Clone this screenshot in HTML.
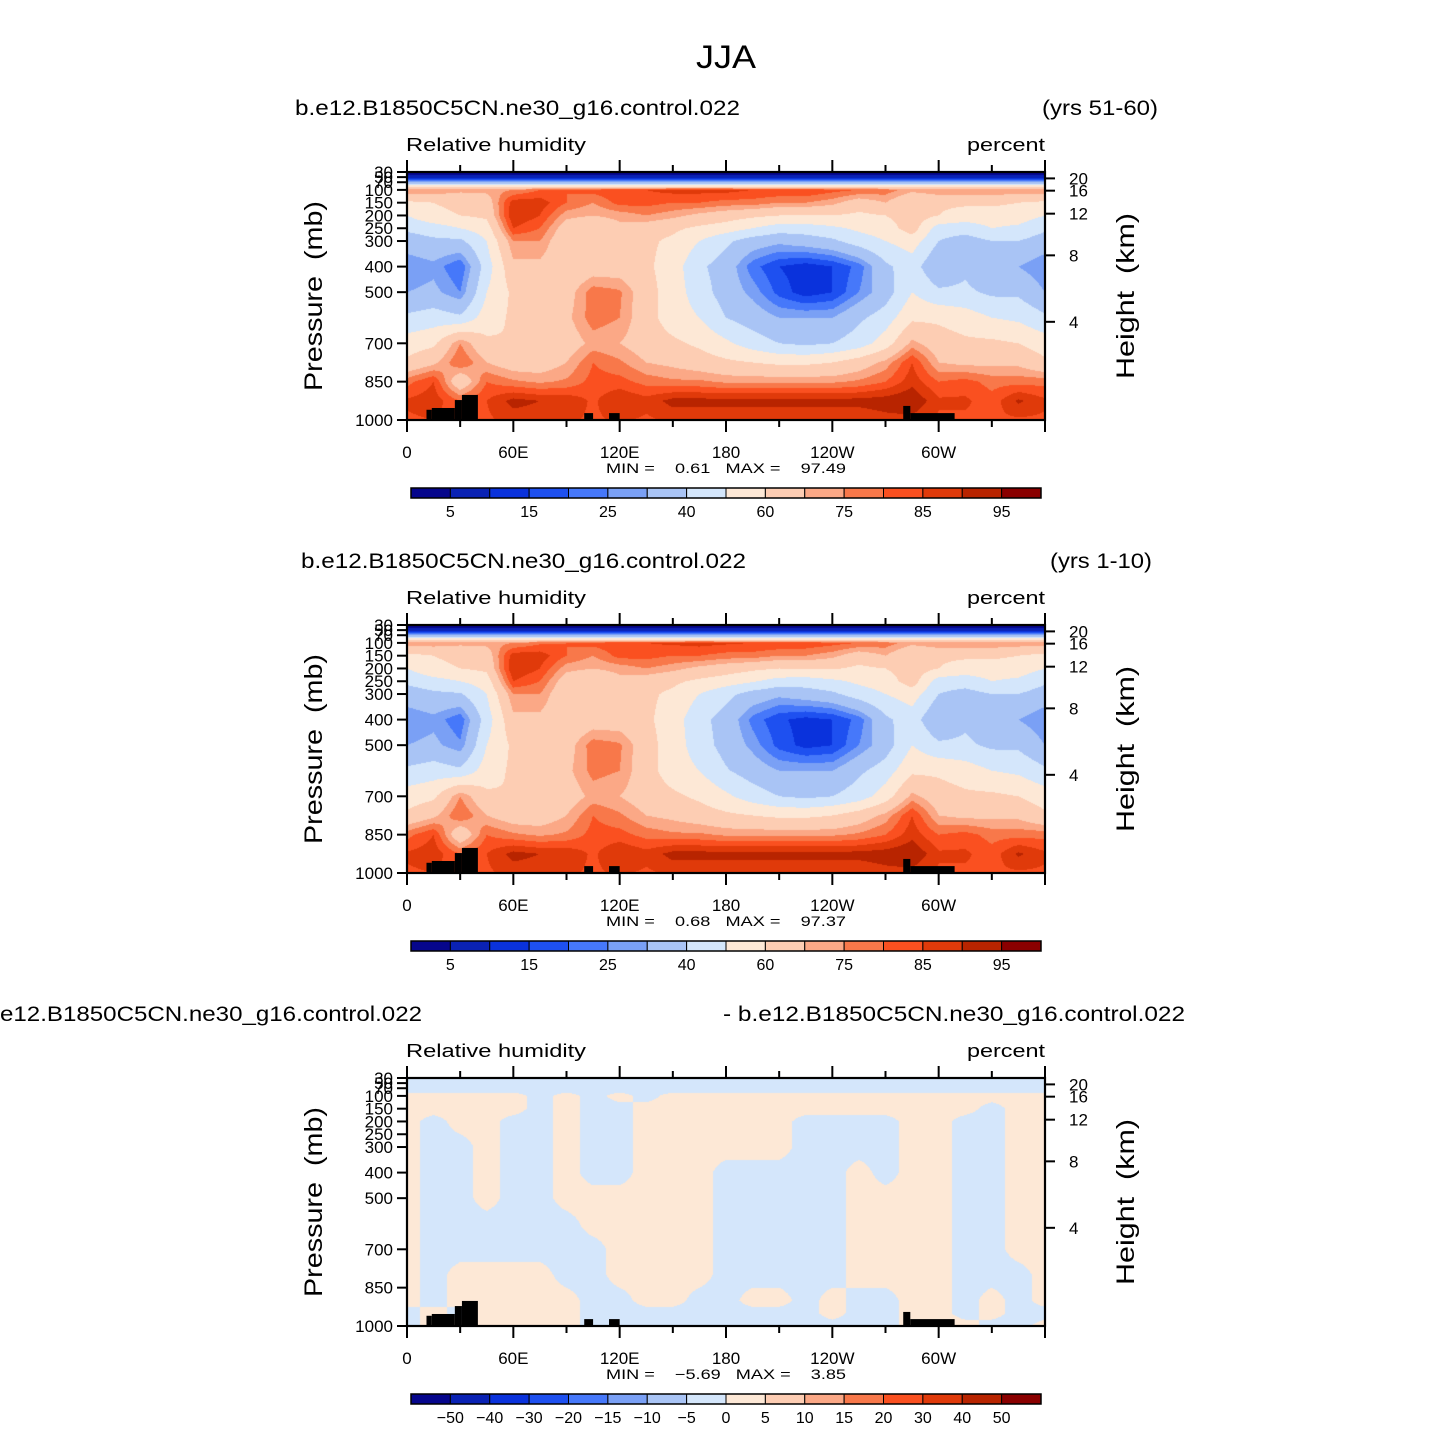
<!DOCTYPE html>
<html><head><meta charset="utf-8">
<style>
html,body{margin:0;padding:0;background:#fff;}
#wrap{position:relative;width:1453px;height:1453px;overflow:hidden;background:#fff;}
canvas{position:absolute;}
svg{position:absolute;left:0;top:0;}
text{font-family:"Liberation Sans",sans-serif;fill:#000;white-space:pre;}
</style></head>
<body>
<div id="wrap">
<canvas id="c0" width="638" height="248" style="left:407px;top:172px"></canvas>
<canvas id="c1" width="638" height="248" style="left:407px;top:625px"></canvas>
<canvas id="c2" width="638" height="248" style="left:407px;top:1078px"></canvas>
<svg id="svg" width="1453" height="1453"></svg>
</div>
<script>
// ---- data ----
const lons = [0,15,30,45,60,75,90,105,120,135,150,165,180,195,210,225,240,255,270,285,300,315,330,345,360];
const presRows = [30,50,70,85,100,150,200,250,300,400,500,600,700,775,850,925,1000];
const rhTest = [
[1,1,1,1,1,1,1,1,1,1,1,1,1,1,1,1,1,1,1,1,1,1,1,1,1],
[8,8,8,8,8,8,8,8,8,8,8,8,8,8,8,8,8,8,8,8,8,8,8,8,8],
[30,30,30,30,30,30,30,30,30,30,30,30,30,30,30,30,30,30,30,30,30,30,30,30,30],
[55,55,55,55,55,55,55,55,55,55,55,55,55,55,55,55,55,55,55,55,55,55,55,55,55],
[75,75,72,72,75,80,80,82,85,85,87,87,87,85,85,85,82,80,78,72,75,75,75,75,75],
[58,60,62,65,88,88,80,75,82,82,80,80,78,78,75,75,72,65,70,60,62,62,62,60,58],
[50,58,60,62,90,85,72,70,72,75,72,68,65,62,60,60,60,58,60,65,60,55,55,55,50],
[42,45,50,55,85,80,65,62,68,65,62,58,55,50,45,45,48,52,55,65,45,45,50,48,42],
[35,38,38,50,75,75,62,60,65,62,58,50,42,35,32,35,38,45,50,55,40,35,40,40,35],
[25,28,20,45,68,68,62,65,65,62,55,42,35,22,15,12,15,22,38,45,30,38,30,30,25],
[30,32,25,50,62,65,66,78,76,64,55,45,35,28,18,12,15,25,35,50,42,42,38,38,30],
[42,45,42,55,62,62,68,78,75,64,55,50,40,35,30,30,30,38,45,58,58,55,50,48,42],
[55,58,75,62,60,60,65,72,70,65,62,58,52,45,40,38,40,45,55,72,65,62,62,60,55],
[62,68,80,70,65,65,70,80,76,70,68,65,62,60,58,58,60,65,72,85,70,68,68,68,62],
[78,85,62,80,76,74,76,82,82,78,76,76,74,74,74,74,74,76,80,88,80,82,78,78,78],
[86,88,80,85,92,90,89,84,90,87,92,92,92,92,92,92,92,92,93,95,86,86,82,91,86],
[84,85,82,84,87,87,86,84,86,84,86,86,86,86,86,86,86,86,88,88,84,84,84,84,84]];
const rhCtrl = [
[1,1,1,1,1,1,1,1,1,1,1,1,1,1,1,1,1,1,1,1,1,1,1,1,1],
[8,8,8,8,8,8,8,8,8,8,8,8,8,8,8,8,8,8,8,8,8,8,8,8,8],
[30,30,30,30,30,30,30,30,30,30,30,30,30,30,30,30,30,30,30,30,30,30,30,30,30],
[55,55,55,55,55,55,55,55,55,55,55,55,55,55,55,55,55,55,55,55,55,55,55,55,55],
[74,74,72,72,75,79,80,82,84,85,86,87,86,85,85,84,82,80,78,72,75,75,75,74,74],
[57,60,62,65,88,88,80,75,82,82,80,80,78,78,75,75,72,65,70,60,62,62,62,60,57],
[50,58,60,62,90,85,72,70,72,75,72,68,65,62,60,61,61,58,60,65,60,55,55,55,50],
[42,46,50,55,85,80,65,62,68,65,62,58,55,51,46,45,48,52,55,65,45,45,50,48,42],
[35,38,39,50,75,75,62,60,65,62,58,50,43,36,32,35,38,45,50,55,40,36,40,40,35],
[25,28,21,45,68,68,62,65,65,62,55,43,36,23,16,13,15,22,38,45,30,38,31,30,25],
[30,32,26,50,62,65,66,78,76,64,55,45,36,28,18,13,15,25,35,50,42,42,38,38,30],
[42,45,42,55,62,62,68,77,75,64,55,50,41,35,30,30,30,38,45,58,58,55,50,48,42],
[55,58,75,62,60,60,65,72,70,65,62,58,52,45,40,38,40,45,55,72,65,62,62,60,55],
[62,68,80,70,65,65,70,80,76,70,68,65,62,60,58,58,60,65,72,85,70,68,68,68,62],
[78,85,62,80,76,74,76,82,82,78,76,76,74,74,74,74,74,76,80,88,80,82,78,78,78],
[86,88,80,85,92,90,89,84,90,87,92,92,92,92,92,92,92,92,93,95,86,86,82,91,86],
[84,85,82,84,87,87,86,84,86,84,86,86,86,86,86,86,86,86,88,88,84,84,84,84,84]];
const diffRows = [30,75,100,150,200,300,400,500,600,700,800,900,950,1000];
const rhDiff = [
[-2,-2,-2,-2,-2,-2,-2,-2,-2,-2,-2,-2,-2,-2,-2,-2,-2,-2,-2,-2,-2,-2,-2,-2,-2],
[-2,-2,-2,-2,-2,-2,-2,-2,-2,-2,-2,-2,-2,-2,-2,-2,-2,-2,-2,-2,-2,-2,-2,-2,-2],
[2,2,2,2,2,-2,2,-2,2,-2,2,2,2,2,2,2,2,2,2,2,2,2,2,2,2],
[2,2,2,2,2,-2,2,-2,-2,2,2,2,2,2,2,2,2,2,2,2,2,2,-2,2,2],
[2,-2,2,2,-2,-2,2,-2,-2,2,2,2,2,2,2,-2,-2,-2,-2,2,2,-2,-2,2,2],
[2,-2,-2,2,-2,-2,2,-2,-2,2,2,2,2,2,2,-2,-2,-2,-2,2,2,-2,-2,2,2],
[2,-2,-2,2,-2,-2,2,-2,-2,2,2,2,-2,-2,-2,-2,-2,2,-2,2,2,-2,-2,2,2],
[2,-2,-2,2,-2,-2,2,2,2,2,2,2,-2,-2,-2,-2,-2,2,2,2,2,-2,-2,2,2],
[2,-2,-2,-2,-2,-2,-2,2,2,2,2,2,-2,-2,-2,-2,-2,2,2,2,2,-2,-2,2,2],
[2,-2,-2,-2,-2,-2,-2,-2,2,2,2,2,-2,-2,-2,-2,-2,2,2,2,2,-2,-2,2,2],
[2,-2,2,2,2,2,-2,-2,2,2,2,2,-2,-2,-2,-2,-2,2,2,2,2,-2,-2,-2,2],
[2,-2,2,2,2,2,2,-2,-2,2,2,-2,-2,2,2,-2,2,-2,-2,2,2,-2,2,-2,2],
[-2,2,-2,2,2,2,2,-2,-2,-2,-2,-2,-2,-2,-2,-2,2,-2,-2,2,2,-2,2,-2,-2],
[-2,2,2,2,2,2,2,-2,-2,-2,-2,-2,-2,-2,-2,-2,-2,-2,-2,2,2,2,-2,-2,2]];
const rhLevels = [5,10,15,20,25,30,40,50,60,70,75,80,85,90,95];
const rhLabels = ["5","15","25","40","60","75","85","95"];
const diffLevels = [-50,-40,-30,-20,-15,-10,-5,0,5,10,15,20,30,40,50];
const diffLabels = ["−50","−40","−30","−20","−15","−10","−5","0","5","10","15","20","30","40","50"];
const palette = ["#06068c","#0a22b4","#0a32dc","#1e50f0","#4678fa","#7aa0f5","#a9c4f5","#d4e6fb","#fde8d6","#fdcdb3","#fba886","#f8784a","#fa5020","#e03a0a","#b82400","#8a0000"];
// topography blocks: lonStart, lonEnd, top pressure
const topoLon0 = [11,14,27,31,100,114,280,284];
const topoLon1 = [14,27,31,40,105,120,284,309];
const topoP = [960,953,922,902,973,973,945,973];
const presTicks = [1000,850,700,500,400,300,250,200,150,100,70,50,30];
const heightKm = [4,8,12,16,20];
const heightP = [616,356,193,103,55];
const lonTicks = [0,60,120,180,240,300,360];
const lonLabels = ["0","60E","120E","180","120W","60W",""];
const panelTitles = [["b.e12.B1850C5CN.ne30_g16.control.022","(yrs 51-60)"],["b.e12.B1850C5CN.ne30_g16.control.022","(yrs 1-10)"],["e12.B1850C5CN.ne30_g16.control.022","- b.e12.B1850C5CN.ne30_g16.control.022"]];
const minmax = [["0.61","97.49"],["0.68","97.37"],["−5.69","3.85"]];

// ---- geometry ----
const PX=407, PW=638, PH=248, TOPS=[172,625,1078];
const PTOP=30, PBOT=1000;
function xOf(lon){return PX + lon/360*PW;}
function yOf(p,top){return top + (p-PTOP)/(PBOT-PTOP)*PH;}

function interp(grid, rows, lon, p){
  let i=Math.min(Math.floor(lon/15),23); let fx=(lon-lons[i])/15;
  let j=0; while(j<rows.length-2 && p>rows[j+1]) j++;
  let fy=(p-rows[j])/(rows[j+1]-rows[j]); fy=Math.max(0,Math.min(1,fy));
  const a=grid[j][i],b=grid[j][i+1],c=grid[j+1][i],d=grid[j+1][i+1];
  return (a*(1-fx)+b*fx)*(1-fy)+(c*(1-fx)+d*fx)*fy;
}
function hex(h){return [parseInt(h.substr(1,2),16),parseInt(h.substr(3,2),16),parseInt(h.substr(5,2),16)];}
const pal = palette.map(hex);
function drawField(id, grid, rows, levels){
  const cv=document.getElementById(id), ctx=cv.getContext('2d');
  const img=ctx.createImageData(PW,PH);
  for(let y=0;y<PH;y++){
    const p=PTOP+(y+0.5)/PH*(PBOT-PTOP);
    for(let x=0;x<PW;x++){
      const lon=(x+0.5)/PW*360;
      const v=interp(grid,rows,lon,p);
      let k=0; while(k<levels.length && v>=levels[k]) k++;
      const c=pal[k], o=(y*PW+x)*4;
      img.data[o]=c[0];img.data[o+1]=c[1];img.data[o+2]=c[2];img.data[o+3]=255;
    }
  }
  ctx.putImageData(img,0,0);
}
drawField('c0',rhTest,presRows,rhLevels);
drawField('c1',rhCtrl,presRows,rhLevels);
drawField('c2',rhDiff,diffRows,diffLevels);

// ---- svg overlay ----
const svg=document.getElementById('svg'), NS='http://www.w3.org/2000/svg';
function el(tag, attrs, parent){const e=document.createElementNS(NS,tag);for(const k in attrs)e.setAttribute(k,attrs[k]);(parent||svg).appendChild(e);return e;}
function txt(s,x,y,size,anchor,len,parent){const t=el('text',{x:x,y:y,'font-size':size,'text-anchor':anchor||'start'},parent);if(len){t.setAttribute('textLength',len);t.setAttribute('lengthAdjust','spacingAndGlyphs');}t.textContent=s;return t;}

const mainTitle=txt('JJA',726,68,32,'middle',60);



for(let k=0;k<3;k++){
  const top=TOPS[k], off=top-172;
  const g=el('g',{});
  
  
  let t;
  if(k<2){ t=txt(panelTitles[k][0],295+(k==1?6:0),115+off,21,'start',445,g); }
  else { t=txt(panelTitles[k][0],0,115+off,21,'start',422,g); }
  
  
  if(k==0) t=txt(panelTitles[k][1],1158,115+off,21,'end',116,g);
  else if(k==1) t=txt(panelTitles[k][1],1152,115+off,21,'end',102,g);
  else t=txt(panelTitles[k][1],723,115+off,21,'start',462,g);
  
  
  t=txt('Relative humidity',406,151+off,18,'start',180,g);
  
  
  t=txt('percent',1045,151+off,18,'end',78,g);
  
  
  for(let i=0;i<topoP.length;i++){
    const x0=xOf(topoLon0[i]), x1=xOf(topoLon1[i]), y0=yOf(topoP[i],top);
    const r=el('rect',{x:x0,y:y0,width:x1-x0,height:top+PH-y0,fill:'#000'},g);
    
    
  }
  const fr=el('rect',{x:PX,y:top,width:PW,height:PH,fill:'none',stroke:'#000','stroke-width':2.2},g);
  
  
  for(let lon=0;lon<=360;lon+=30){
    const x=xOf(lon), major=lon%60==0, L=major?12:7;
    el('line',{x1:x,y1:top+PH,x2:x,y2:top+PH+L,stroke:'#000','stroke-width':2},g);
    el('line',{x1:x,y1:top,x2:x,y2:top-L,stroke:'#000','stroke-width':2},g);
  }
  for(let i=0;i<lonTicks.length;i++){
    if(!lonLabels[i]) continue;
    t=txt(lonLabels[i],xOf(lonTicks[i]),top+PH+38,17,'middle',null,g);
    
    
  }
  for(let i=0;i<presTicks.length;i++){
    const y=yOf(presTicks[i],top);
    el('line',{x1:PX,y1:y,x2:PX-10,y2:y,stroke:'#000','stroke-width':2},g);
    t=txt(String(presTicks[i]),PX-14,y+6,17,'end',null,g);
    
    
  }
  for(let i=0;i<heightKm.length;i++){
    const y=yOf(heightP[i],top);
    el('line',{x1:PX+PW,y1:y,x2:PX+PW+10,y2:y,stroke:'#000','stroke-width':2},g);
    t=txt(String(heightKm[i]),PX+PW+24,y+6,17,'start',null,g);
    
    
  }
  t=txt('Pressure  (mb)',0,0,25,'middle',190,g);
  t.setAttribute('transform','translate(322,'+(296+off)+') rotate(-90)');
  
  
  t=txt('Height  (km)',0,0,25,'middle',166,g);
  t.setAttribute('transform','translate(1134,'+(296+off)+') rotate(-90)');
  
  
  t=txt('MIN =    '+minmax[k][0]+'   MAX =    '+minmax[k][1],726,top+PH+53,14,'middle',240,g);
  
  
  const cbx=411, cbw=630, cby=top+316, cbh=10, bw=cbw/16;
  for(let i=0;i<16;i++){
    const r=el('rect',{x:cbx+i*bw,y:cby,width:bw,height:cbh,fill:palette[i],stroke:'#000','stroke-width':1},g);
    
    
  }
  el('rect',{x:cbx,y:cby,width:cbw,height:cbh,fill:'none',stroke:'#000','stroke-width':1.5},g);
  if(k<2){
    for(let i=0;i<rhLabels.length;i++){
      t=txt(rhLabels[i],cbx+(2*i+1)*bw,cby+29,16,'middle',null,g);
      
      
    }
  } else {
    for(let i=0;i<diffLabels.length;i++){
      t=txt(diffLabels[i],cbx+(i+1)*bw,cby+29,16,'middle',null,g);
      
      
    }
  }
}
</script>
</body></html>
